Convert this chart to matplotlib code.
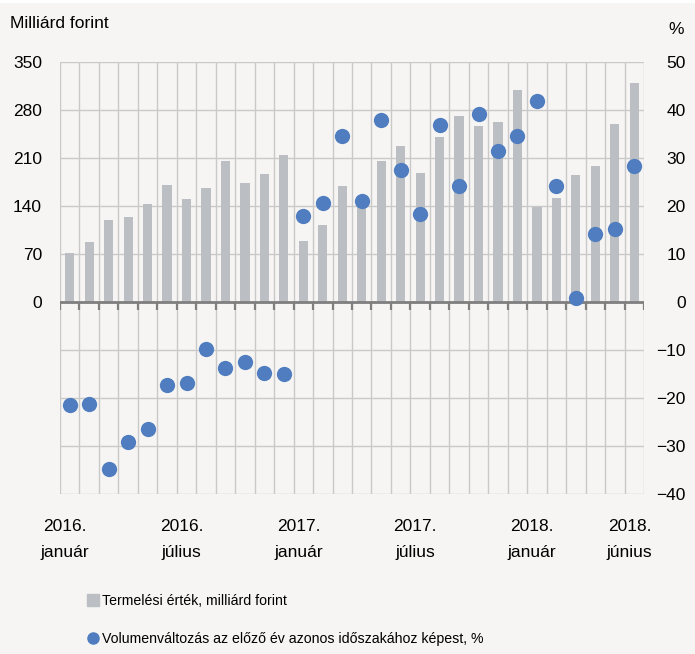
import matplotlib
matplotlib.use('Agg')
import matplotlib.pyplot as plt
from matplotlib.patches import Rectangle
from matplotlib.lines import Line2D
import numpy as np

plt.rcParams['font.family'] = ['Liberation Sans', 'DejaVu Sans']

# havi adatok, 2016 január - 2018 június
termeles = [72, 87, 119, 124, 143, 170, 150, 166, 206, 173, 187, 215,
            89, 112, 169, 147, 206, 228, 188, 241, 271, 257, 263, 309,
            138, 151, 185, 198, 260, 320]
volumen = [-21.5, -21.2, -34.7, -29.2, -26.5, -17.3, -16.9, -9.8, -13.7, -12.6, -14.7, -14.9,
           17.9, 20.7, 34.6, 21.0, 38.0, 27.5, 18.4, 36.8, 24.2, 39.1, 31.4, 34.5,
           41.8, 24.2, 0.8, 14.2, 15.3, 28.3]
label_pos = [0, 6, 12, 18, 24, 29]
label_txt = ['2016.\njanuár', '2016.\njúlius', '2017.\njanuár', '2017.\njúlius',
             '2018.\njanuár', '2018.\njúnius']
left_ticks = [0, 70, 140, 210, 280, 350]
right_ticks = [-40, -30, -20, -10, 0, 10, 20, 30, 40, 50]

bg = '#f6f5f3'
bar_color = '#bbbec2'
dot_color = '#4f7dbf'
grid_color = '#c9c9c9'

fig = plt.figure(figsize=(6.95, 6.54), dpi=100, facecolor=bg)
fig.patches.append(Rectangle((0, 1 - 3 / 654), 1, 3 / 654, transform=fig.transFigure,
                             facecolor='white', edgecolor='none'))
ax = fig.add_axes([60 / 695, 1 - 494 / 654, 584 / 695, 432 / 654])
ax.set_facecolor(bg)
ax2 = ax.twinx()

x = np.arange(len(termeles))
n = len(x)

# rács
for k in range(n + 1):
    ax.axvline(k - 0.5, color=grid_color, lw=1, zorder=0)
for v in np.arange(-280, 351, 70):
    ax.axhline(v, color=grid_color, lw=1, zorder=0)

ax.bar(x, termeles, width=0.47, color=bar_color, zorder=2)
ax.axhline(0, color='#7f7f7f', lw=2, zorder=3)
for k in range(n + 1):
    ax.plot([k - 0.5, k - 0.5], [0, -12], color='#7f7f7f', lw=1.6, zorder=3,
            solid_capstyle='butt')

ax.set_xlim(-0.5, n - 0.5)
ax.set_ylim(-280, 350)
ax2.set_ylim(-40, 50)

ax2.plot(x, volumen, 'o', color=dot_color, markersize=11, markeredgewidth=0, zorder=4)

for a in (ax, ax2):
    for s in a.spines.values():
        s.set_visible(False)
ax.set_xticks([])
ax.set_yticks(left_ticks)
ax.tick_params(axis='y', length=0, labelsize=12.5, pad=13)
ax2.set_yticks(right_ticks)
ax2.tick_params(axis='y', length=0, labelsize=12.5, pad=30)
for lab in ax2.get_yticklabels():
    lab.set_horizontalalignment('right')

for p, t in zip(label_pos, label_txt):
    ax.text(p - 0.25, -316, t, ha='center', va='top', fontsize=12.5, linespacing=1.95)

fig.text(10 / 695, 1 - 24 / 654, 'Milliárd forint', fontsize=12.5, va='center', ha='left')
fig.text(684 / 695, 1 - 30 / 654, '%', fontsize=12.5, va='center', ha='right')

handles = [Line2D([], [], marker='s', color=bar_color, linestyle='none', markersize=8),
           Line2D([], [], marker='o', color=dot_color, linestyle='none', markersize=8)]
fig.legend(handles, ['Termelési érték, milliárd forint',
                     'Volumenváltozás az előző év azonos időszakához képest, %'],
           loc='upper left', bbox_to_anchor=(82 / 695, 1 - 594 / 654), frameon=False,
           fontsize=10.2, handletextpad=-0.1, labelspacing=1.72, handlelength=1.5,
           borderaxespad=0, borderpad=0)

fig.savefig('out.png', dpi=100, facecolor=bg)
